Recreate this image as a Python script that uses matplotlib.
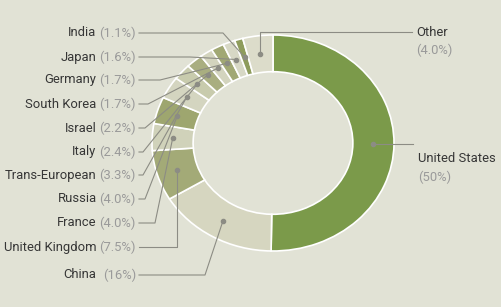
import numpy as np
import matplotlib
matplotlib.use("Agg")
import matplotlib.pyplot as plt

# data, clockwise from 12 o'clock
countries = ["United States", "China", "United Kingdom", "France", "Russia",
             "Trans-European", "Italy", "Israel", "South Korea", "Germany",
             "Japan", "India", "Other"]
shares = [50, 16, 7.5, 4.0, 4.0, 3.3, 2.4, 2.2, 1.7, 1.7, 1.6, 1.1, 4.0]
share_labels = ["(50%)", "(16%)", "(7.5%)", "(4.0%)", "(4.0%)", "(3.3%)", "(2.4%)",
                "(2.2%)", "(1.7%)", "(1.7%)", "(1.6%)", "(1.1%)", "(4.0%)"]
colors = ["#7b9a4a", "#d6d6c0", "#a3aa77", "#d0d2ba", "#9ea66f", "#d4d5c0",
          "#c8cbad", "#a9ae80", "#d3d4be", "#a1a874", "#d7d8c5", "#8e9c5c",
          "#dcdcca"]

BG = "#e1e2d5"
W, H = 502, 307
CX, CY, RX, RY = 273, 143, 121, 108
INNER = 0.66

fig = plt.figure(figsize=(W / 100, H / 100), dpi=100, facecolor=BG)

# donut (slightly wider than tall, like the reference)
ax_pie = fig.add_axes([(CX - RX) / W, (H - CY - RY) / H, 2 * RX / W, 2 * RY / H])
ax_pie.pie(shares, colors=colors, startangle=90, counterclock=False,
           wedgeprops=dict(width=1 - INNER, edgecolor="white", linewidth=1.2))
ax_pie.set_aspect("auto")
ax_pie.set_xlim(-1, 1)
ax_pie.set_ylim(-1, 1)
ax_pie.axis("off")

# overlay in pixel coordinates for labels and leader lines
ax = fig.add_axes([0, 0, 1, 1])
ax.set_xlim(0, W)
ax.set_ylim(H, 0)
ax.axis("off")

total = sum(shares)
cum = np.cumsum([0] + shares[:-1]) / total * 360
mids = cum + np.array(shares) / total * 360 / 2
rmid = (1 + INNER) / 2
dot_x = CX + RX * rmid * np.sin(np.radians(mids))
dot_y = CY - RY * rmid * np.cos(np.radians(mids))

line_kw = dict(color="#8c8c84", lw=0.8)
ax.scatter(dot_x, dot_y, s=9, color="#8c8c84", zorder=5)

renderer = fig.canvas.get_renderer()
name_kw = dict(fontsize=9.4, color="#363636", va="center", family="Roboto")
pct_kw = dict(fontsize=9.4, color="#9a9a9a", va="center", family="Roboto")

# left-side labels: (index, label y, elbow x)
left = [(11, 33, 223), (10, 57, 190), (9, 80, 160), (8, 104, 148), (7, 128, 145),
        (6, 152, 143), (5, 175, 143), (4, 199, 145), (3, 223, 155),
        (2, 247, None), (1, 275, 205)]
LX = 136
for i, y, ex in left:
    t = ax.text(LX, y, share_labels[i], ha="right", **pct_kw)
    bb = t.get_window_extent(renderer)
    gap = 7 if i == 1 else 3
    ax.text(LX - bb.width - gap, y, countries[i], ha="right", **name_kw)
    if ex is None:
        ex = dot_x[i]
    ax.plot([LX + 3, ex, dot_x[i]], [y, y, dot_y[i]], **line_kw)

# right-side labels
ax.text(416, 33, countries[12], ha="left", **name_kw)
ax.text(416, 50, share_labels[12], ha="left", **pct_kw)
ax.plot([412, dot_x[12], dot_x[12]], [32, 32, dot_y[12]], **line_kw)

ax.text(418, 159, countries[0], ha="left", **name_kw)
ax.text(418, 177, share_labels[0], ha="left", **pct_kw)
ax.plot([dot_x[0], 413], [dot_y[0], dot_y[0]], **line_kw)

fig.savefig("out.png", dpi=100, facecolor=BG)
